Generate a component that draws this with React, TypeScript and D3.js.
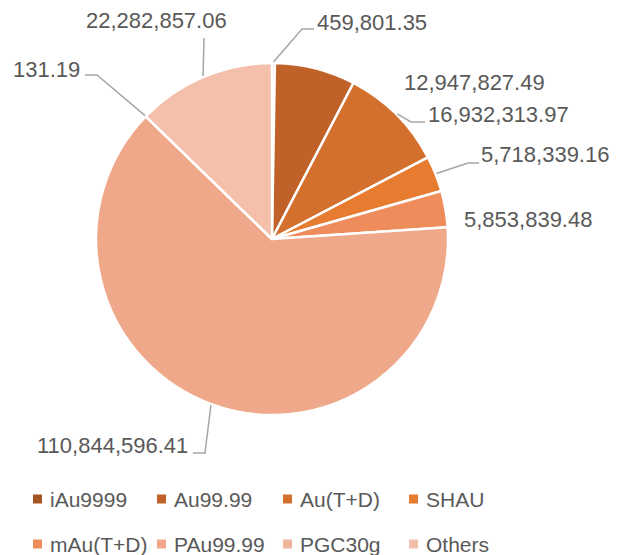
import React from "react";
import * as d3 from "d3";

const categories = ["iAu9999", "Au99.99", "Au(T+D)", "SHAU", "mAu(T+D)", "PAu99.99", "PGC30g", "Others"];
const values = [459801.35, 12947827.49, 16932313.97, 5718339.16, 5853839.48, 110844596.41, 131.19, 22282857.06];
const colors = ["#A5541F", "#C0612A", "#D4702D", "#E77C31", "#EE8C5B", "#F0A88A", "#F2B39C", "#F4BFAB"];

// label layout (Excel-style manually placed labels): text anchor + leader elbow points
type LabelLayout = { tx: number; ty: number; leader: [number, number][] | null };
const labelLayout: LabelLayout[] = [
  { tx: 317, ty: 30, leader: [[302, 29], [314, 29]] },
  { tx: 404, ty: 90, leader: null },
  { tx: 428, ty: 122, leader: [[411, 122], [425, 122]] },
  { tx: 481, ty: 162, leader: [[468, 163], [479, 163]] },
  { tx: 464, ty: 227, leader: null },
  { tx: 37, ty: 453, leader: [[205, 453], [193, 453]] },
  { tx: 13, ty: 77, leader: [[97, 75], [85, 75]] },
  { tx: 86, ty: 28, leader: [[204, 38]] },
];

const W = 622, H = 555;
const cx = 272, cy = 239, R = 176;

const fmt = d3.format(",.2f");

export default function App() {
  const pie = d3.pie<number>().sort(null).value((d) => d);
  const arcs = pie(values);
  const arcGen = d3.arc<d3.PieArcDatum<number>>().innerRadius(0).outerRadius(R);

  const legendCols = [33, 157, 283, 409];
  const legendRows = [499, 544];

  return (
    <svg width={W} height={H} style={{ position: "absolute", left: 0, top: 0, background: "#fff" }}
      fontFamily="'Liberation Sans', Arial, sans-serif">
      <g transform={`translate(${cx},${cy})`}>
        {arcs.map((a, i) => (
          <path key={i} d={arcGen(a) || ""} fill={colors[i]} stroke="#fff" strokeWidth={2.5} strokeLinejoin="round" />
        ))}
      </g>
      {arcs.map((a, i) => {
        const L = labelLayout[i];
        if (!L.leader) return null;
        const mid = (a.startAngle + a.endAngle) / 2;
        const sx = cx + Math.sin(mid) * (R + 1);
        const sy = cy - Math.cos(mid) * (R + 1);
        const pts: [number, number][] = [[sx, sy], ...L.leader];
        return (
          <polyline key={"l" + i} points={pts.map((p) => p.join(",")).join(" ")} fill="none" stroke="#A6A6A6" strokeWidth={1.5} />
        );
      })}
      {values.map((v, i) => (
        <text key={"t" + i} x={labelLayout[i].tx} y={labelLayout[i].ty} fontSize={22} fill="#595959">
          {fmt(v)}
        </text>
      ))}
      {categories.map((c, i) => {
        const col = i % 4;
        const row = Math.floor(i / 4);
        const x = legendCols[col];
        const y = legendRows[row];
        return (
          <g key={"g" + i}>
            <rect x={x} y={y - 4.5} width={9} height={9} fill={colors[i]} />
            <text x={x + 17} y={y + 8} fontSize={21} fill="#595959">{c}</text>
          </g>
        );
      })}
    </svg>
  );
}
